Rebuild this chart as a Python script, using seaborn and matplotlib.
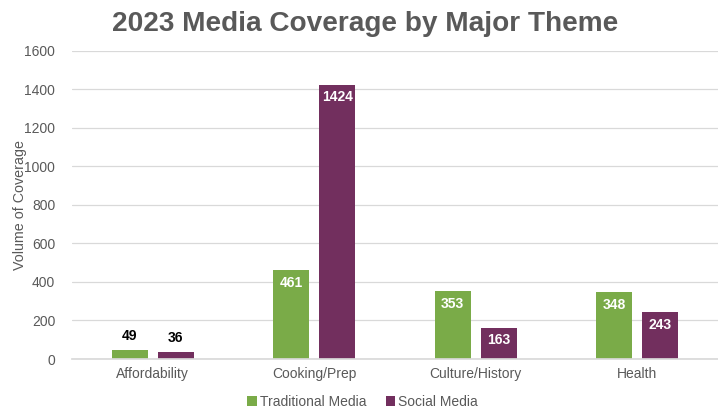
import pandas as pd
import matplotlib.pyplot as plt
import seaborn as sns

# Data
themes = ['Affordability', 'Cooking/Prep', 'Culture/History', 'Health']
traditional = [49, 461, 353, 348]
social = [36, 1424, 163, 243]
series_names = ['Traditional Media', 'Social Media']

df = pd.DataFrame({
    'Theme': themes * 2,
    'Media': [series_names[0]] * len(themes) + [series_names[1]] * len(themes),
    'Volume': traditional + social,
})

palette = {'Traditional Media': '#7AAB48', 'Social Media': '#722F5E'}
grey = '#595959'

sns.set_theme(style='white')
plt.rcParams['font.family'] = ['Liberation Sans', 'DejaVu Sans']

fig, ax = plt.subplots(figsize=(7.18, 4.08), dpi=100)
fig.subplots_adjust(left=0.1, right=1.0, top=0.876, bottom=0.12)

sns.barplot(data=df, x='Theme', y='Volume', hue='Media', palette=palette,
            width=0.57, gap=0.22, saturation=1, linewidth=0, ax=ax, legend=True)

ax.set_ylim(0, 1600)
ax.set_yticks(range(0, 1601, 200))
ax.yaxis.grid(True, color='#D9D9D9', linewidth=0.9)
ax.set_axisbelow(True)
for s in ['top', 'right', 'left']:
    ax.spines[s].set_visible(False)
ax.spines['bottom'].set_color('#D9D9D9')
ax.tick_params(axis='both', colors=grey, labelsize=10, length=0)
ax.tick_params(axis='y', pad=12)
ax.tick_params(axis='x', pad=6)
ax.set_xlabel('')
ax.set_ylabel('Volume of Coverage', color=grey, fontsize=10.3)
ax.yaxis.set_label_coords(-0.07, 0.5)

# value labels
for cont in ax.containers:
    for bar in cont:
        h = bar.get_height()
        x = bar.get_x() + bar.get_width() / 2
        if h > 150:
            ax.text(x, h - 30, f'{int(h)}', ha='center', va='top',
                    color='white', fontsize=10, fontweight='bold')
        else:
            ax.text(x, h + 35, f'{int(h)}', ha='center', va='bottom',
                    color='black', fontsize=10, fontweight='bold')

ax.legend(loc='upper center', bbox_to_anchor=(0.45, -0.088), ncol=2,
          frameon=False, fontsize=10, handlelength=0.7, handleheight=0.7,
          handletextpad=0.2, columnspacing=1.4, labelcolor=grey,
          borderaxespad=0.2)

fig.suptitle('2023 Media Coverage by Major Theme', x=0.508, y=0.972,
             fontsize=20.2, fontweight='bold', color=grey)

plt.savefig('out.png', dpi=100)
